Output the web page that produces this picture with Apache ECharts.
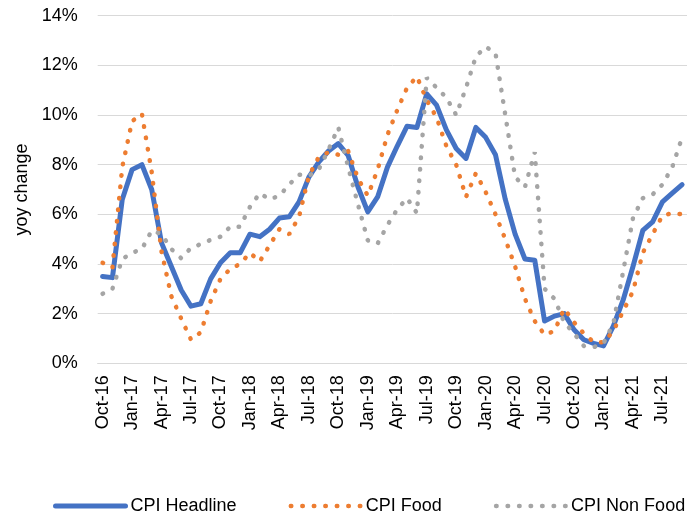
<!DOCTYPE html>
<html lang="en">
<head>
    <meta charset="UTF-8">
    <title>CPI yoy</title>
    <script src="https://cdn.jsdelivr.net/npm/echarts@6/dist/echarts.min.js"></script>
    <style>
        html, body { margin: 0; padding: 0; background: #fff; }
        #viz { width: 687px; height: 518px; }
    </style>
</head>
<body>
    <div id="viz"></div>
    <script>
        // monthly, Oct-16 .. Sep-21 (last month sits just past the cropped right edge)
        const months = [
            'Oct-16', 'Nov-16', 'Dec-16',
            'Jan-17', 'Feb-17', 'Mar-17', 'Apr-17', 'May-17', 'Jun-17', 'Jul-17', 'Aug-17', 'Sep-17', 'Oct-17', 'Nov-17', 'Dec-17',
            'Jan-18', 'Feb-18', 'Mar-18', 'Apr-18', 'May-18', 'Jun-18', 'Jul-18', 'Aug-18', 'Sep-18', 'Oct-18', 'Nov-18', 'Dec-18',
            'Jan-19', 'Feb-19', 'Mar-19', 'Apr-19', 'May-19', 'Jun-19', 'Jul-19', 'Aug-19', 'Sep-19', 'Oct-19', 'Nov-19', 'Dec-19',
            'Jan-20', 'Feb-20', 'Mar-20', 'Apr-20', 'May-20', 'Jun-20', 'Jul-20', 'Aug-20', 'Sep-20', 'Oct-20', 'Nov-20', 'Dec-20',
            'Jan-21', 'Feb-21', 'Mar-21', 'Apr-21', 'May-21', 'Jun-21', 'Jul-21', 'Aug-21', 'Sep-21'
        ];

        const cpiHeadline = [
            3.5, 3.45, 6.6,
            7.8, 8.0, 7.0, 4.85, 3.9, 2.95, 2.3, 2.4, 3.4, 4.05, 4.45, 4.45,
            5.2, 5.1, 5.4, 5.85, 5.9, 6.5, 7.5, 8.1, 8.55, 8.85, 8.37, 7.1,
            6.1, 6.7, 7.9, 8.75, 9.55, 9.5, 10.85, 10.4, 9.4, 8.65, 8.25, 9.5,
            9.1, 8.4, 6.6, 5.2, 4.2, 4.15, 1.7, 1.9, 2.0, 1.35, 0.95, 0.8,
            0.7, 1.5, 2.55, 3.9, 5.35, 5.7, 6.5, 6.85, 7.2
        ];

        const cpiFood = [
            4.05, 3.85, 7.9,
            9.75, 10.05, 7.7, 4.5, 2.7, 1.8, 0.95, 1.25, 2.5, 3.4, 3.8, 4.0,
            4.45, 4.1, 4.75, 5.4, 5.2, 5.9, 7.55, 8.3, 8.5, 8.4, 8.55, 7.45,
            6.75, 7.8, 9.2, 10.2, 11.1, 11.55, 10.6, 9.9, 8.75, 8.0, 6.7, 7.65,
            6.9, 6.0, 5.0, 3.9, 2.6, 1.7, 1.15, 1.3, 2.2, 1.65, 1.2, 0.85,
            0.85, 1.3, 2.1, 2.9, 4.45, 5.2, 5.95, 6.05, 6.0
        ];

        const cpiNonFood = [
            2.8, 3.0, 4.2,
            4.45, 4.6, 5.35, 5.2, 4.6, 4.23, 4.65, 4.8, 4.97, 5.1, 5.5, 5.5,
            6.3, 6.85, 6.6, 6.75, 7.2, 7.6, 7.55, 7.8, 8.6, 9.5, 7.9, 6.4,
            4.95, 4.82, 5.57, 6.2, 6.65, 6.05, 11.5, 11.1, 10.7, 10.0, 11.1, 12.35,
            12.75, 12.5, 10.0, 7.5, 7.1, 8.5, 3.0, 2.6, 1.65, 1.2, 0.7, 0.65,
            0.8, 1.6, 3.7, 5.85, 6.65, 6.8, 7.2, 7.9, 9.1
        ];

        const yTicks = [0, 2, 4, 6, 8, 10, 12, 14];

        const font = 'Liberation Sans';
        const gridGrey = '#d9d9d9';

        const solid = (color) => ({ color, width: 5, type: 'solid', join: 'round', cap: 'round' });
        const dots = (color) => ({ color, width: 4.5, type: [0.5, 11], cap: 'round' });
        const noMarker = { color: 'transparent', borderColor: 'transparent', borderWidth: 0 };

        const option = {
            animation: false,
            backgroundColor: '#fff',
            grid: { left: 97.7, right: -11, top: 15.7, bottom: 154.7 },
            legend: {
                left: 48,
                top: 492,
                width: 900,
                itemWidth: 70,
                itemHeight: 14,
                itemGap: 52,
                textStyle: { fontFamily: font, fontSize: 18, color: '#000' },
                data: [
                    { name: 'CPI Headline', lineStyle: solid('#4472c4'), itemStyle: noMarker },
                    { name: 'CPI Food', lineStyle: dots('#ed7d31'), itemStyle: noMarker },
                    { name: 'CPI Non Food', lineStyle: dots('#a5a5a5'), itemStyle: noMarker }
                ]
            },
            xAxis: {
                type: 'category',
                data: months,
                boundaryGap: true,
                axisLine: { lineStyle: { color: gridGrey, width: 1 } },
                axisTick: { interval: 2, length: 5, lineStyle: { color: gridGrey } },
                axisLabel: {
                    interval: 2,
                    rotate: 90,
                    margin: 12,
                    fontFamily: font,
                    fontSize: 18,
                    color: '#000'
                },
                splitLine: { show: false }
            },
            yAxis: {
                type: 'value',
                min: yTicks[0],
                max: yTicks[yTicks.length - 1],
                interval: yTicks[1] - yTicks[0],
                name: 'yoy change',
                nameLocation: 'middle',
                nameRotate: 90,
                nameGap: 63,
                nameTextStyle: { fontFamily: font, fontSize: 18, color: '#000' },
                axisLine: { show: false },
                axisTick: { show: false },
                axisLabel: {
                    margin: 20,
                    fontFamily: font,
                    fontSize: 18,
                    color: '#000',
                    formatter: '{value}%'
                },
                splitLine: { lineStyle: { color: gridGrey, width: 1 } }
            },
            series: [
                {
                    name: 'CPI Headline',
                    type: 'line',
                    data: cpiHeadline,
                    symbol: 'none',
                    lineStyle: solid('#4472c4'),
                    itemStyle: { color: '#4472c4' }
                },
                {
                    name: 'CPI Food',
                    type: 'line',
                    data: cpiFood,
                    symbol: 'none',
                    lineStyle: dots('#ed7d31'),
                    itemStyle: { color: '#ed7d31' }
                },
                {
                    name: 'CPI Non Food',
                    type: 'line',
                    data: cpiNonFood,
                    symbol: 'none',
                    lineStyle: dots('#a5a5a5'),
                    itemStyle: { color: '#a5a5a5' }
                }
            ]
        };

        const chart = echarts.init(document.getElementById('viz'), null, { renderer: 'canvas' });
        chart.setOption(option);
        window.onresize = () => chart.resize();
    </script>
</body>
</html>
